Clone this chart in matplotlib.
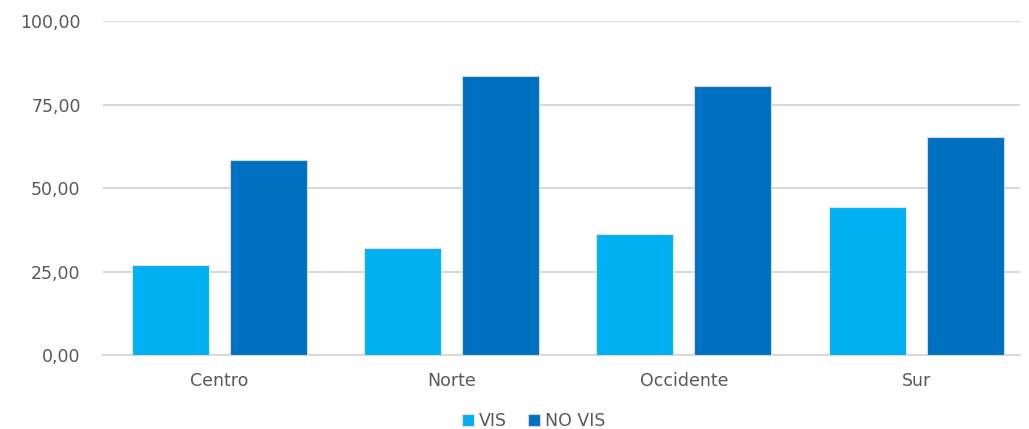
import matplotlib
matplotlib.use('Agg')
import matplotlib.pyplot as plt
import numpy as np

regiones = ['Centro', 'Norte', 'Occidente', 'Sur']
vis = [26.9, 32.0, 36.4, 44.4]
no_vis = [58.6, 83.5, 80.5, 65.4]
yticks = [0, 25, 50, 75, 100]

plt.rcParams['font.family'] = ['DejaVu Sans']

fig = plt.figure(figsize=(10.29, 4.29), dpi=100)
ax = fig.add_axes([0.100, 0.1725, 0.891, 0.7775])

x = np.arange(len(regiones))
w = 0.331
off = 0.211
ax.bar(x - off, vis, w, color='#00B0F0', edgecolor='#DDE6EE', linewidth=0.8, label='VIS', zorder=3)
ax.bar(x + off, no_vis, w, color='#0070C0', edgecolor='#D0D8E0', linewidth=0.8, label='NO VIS', zorder=3)

ax.set_xlim(-0.5, 3.446)
ax.set_ylim(0, 100)
ax.set_yticks(yticks)
ax.set_yticklabels([('%.2f' % v).replace('.', ',') for v in yticks])
ax.set_xticks(x)
ax.set_xticklabels(regiones)
ax.yaxis.grid(True, color='#D9D9D9', linewidth=1.5, zorder=0)
for s in ['top', 'right', 'left']:
    ax.spines[s].set_visible(False)
ax.spines['bottom'].set_color('#D9D9D9')
ax.spines['bottom'].set_linewidth(1.5)
ax.tick_params(axis='both', length=0, labelsize=12.5, colors='#595959')
ax.tick_params(axis='y', pad=16)
ax.tick_params(axis='x', pad=12)

ax.legend(loc='center', bbox_to_anchor=(0.47, -0.198), ncol=2, frameon=False,
          fontsize=12.5, handlelength=0.7, handleheight=0.7, handletextpad=0.3,
          columnspacing=1.2, labelcolor='#595959', borderpad=0.1)

fig.savefig('out.png', dpi=100)
